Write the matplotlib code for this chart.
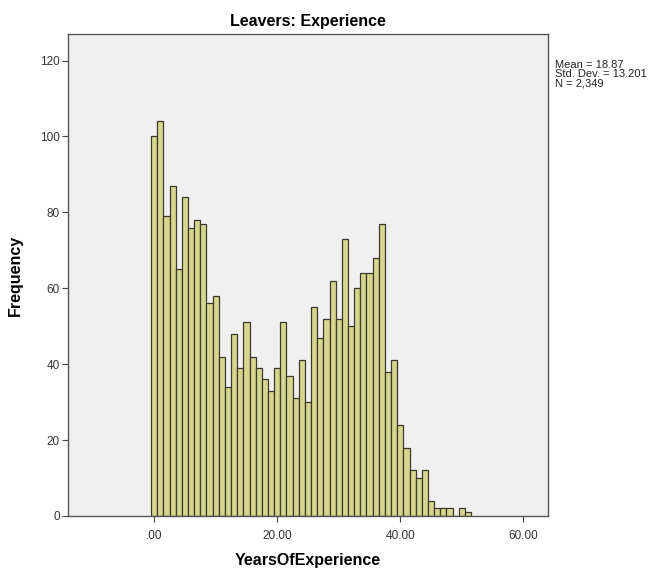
import numpy as np
import matplotlib.pyplot as plt

plt.rcParams['font.family'] = ['Liberation Sans', 'DejaVu Sans']

# leavers per year of experience (0..51)
years = list(range(52))
freq = [100, 104, 79, 87, 65, 84, 76, 78, 77, 56,
        58, 42, 34, 48, 39, 51, 42, 39, 36, 33,
        39, 51, 37, 31, 41, 30, 55, 47, 52, 62,
        52, 73, 50, 60, 64, 64, 68, 77, 38, 41,
        24, 18, 12, 10, 12, 4, 2, 2, 2, 0,
        2, 1]
xticks = [0, 20, 40, 60]
xticklabels = ['.00', '20.00', '40.00', '60.00']
yticks = [0, 20, 40, 60, 80, 100, 120]
stats = ['Mean = 18.87', 'Std. Dev. = 13.201', 'N = 2,349']

fig = plt.figure(figsize=(6.61, 5.69), dpi=100)
ax = fig.add_axes([68/661, 1 - 516/569, 480/661, 482/569])
ax.set_facecolor('#f0f0f0')

ax.bar(years, freq, width=1.0, color='#d6d68e', edgecolor='#3a3a2c', linewidth=0.9)

ax.set_xlim(-14, 64)
ax.set_ylim(0, 127)
ax.set_xticks(xticks)
ax.set_xticklabels(xticklabels)
ax.set_yticks(yticks)
ax.tick_params(direction='out', length=4, width=0.8, colors='#444444',
               labelsize=8.5, labelcolor='#333333')
ax.tick_params(axis='x', pad=6)
ax.tick_params(axis='y', pad=2)
for s in ax.spines.values():
    s.set_color('#555555')
    s.set_linewidth(1.0)

ax.set_title('Leavers: Experience', fontsize=11.5, fontweight='bold', pad=6)
ax.set_xlabel('YearsOfExperience', fontsize=11.5, fontweight='bold', labelpad=8)
ax.set_ylabel('Frequency', fontsize=11.5, fontweight='bold', labelpad=12)

fig.text(555/661, 1 - 60/569, '\n'.join(stats), fontsize=8, va='top', ha='left',
         color='#222222', linespacing=0.92)

fig.savefig('out.png', dpi=100, facecolor='white')
